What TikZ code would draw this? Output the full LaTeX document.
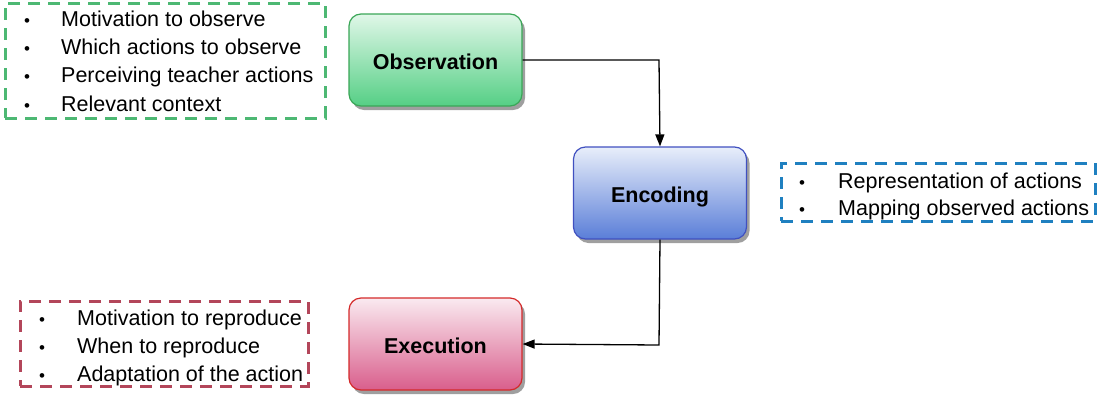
\documentclass[tikz,border=0pt]{standalone}
\usepackage{fontspec}
\setmainfont{Liberation Sans}
\usetikzlibrary{shadows,arrows.meta}
\definecolor{gedge}{HTML}{3AA657}
\definecolor{gtop}{HTML}{E0F7E8}
\definecolor{gbot}{HTML}{55CF85}
\definecolor{bedge}{HTML}{4050C0}
\definecolor{btop}{HTML}{E8EEFA}
\definecolor{bbot}{HTML}{5A7ED8}
\definecolor{redge}{HTML}{D42A2A}
\definecolor{rtop}{HTML}{FAEAF0}
\definecolor{rbot}{HTML}{D95E8C}
\definecolor{gdash}{HTML}{4DB873}
\definecolor{bdash}{HTML}{1F80C0}
\definecolor{rdash}{HTML}{B3465A}
\tikzset{
  stage/.style={rounded corners=12pt, minimum width=173pt, minimum height=92pt,
    line width=1.2pt, font=\fontsize{21.5}{25}\selectfont\bfseries,
    text height=19pt, text depth=0pt,
    drop shadow={shadow xshift=3pt, shadow yshift=-4pt, opacity=0.5, fill=black!75}},
  dbox/.style={line width=3pt, dash pattern=on 12pt off 8pt},
  item/.style={anchor=base west, font=\fontsize{21.5}{25}\selectfont, inner sep=0pt},
  bul/.style={anchor=base, font=\fontsize{17}{20}\selectfont, inner sep=0pt},
  conn/.style={line width=1.3pt, -{Triangle[length=12pt,width=9pt]}}
}
\begin{document}
\begin{tikzpicture}[x=1pt,y=-1pt]
\useasboundingbox (0,0) rectangle (1097,394);
% stage boxes
\node[stage, draw=gedge, top color=gtop, bottom color=gbot] (obs) at (435.5,60) {Observation};
\node[stage, draw=bedge, top color=btop, bottom color=bbot] (enc) at (660,193) {Encoding};
\node[stage, draw=redge, top color=rtop, bottom color=rbot] (exe) at (435.5,344) {Execution};
% connectors
\coordinate (c1) at (659,60);
\coordinate (c2) at (659,345);
\draw[conn] (obs.east) -- (c1) -- (enc.north);
\draw[conn] (enc.south) -- (c2) -- (exe.east);
% green list
\node[draw=gdash, dbox, minimum width=320pt, minimum height=115pt, inner sep=0pt] (gbox) at (165,60.5) {};
\foreach \y/\t [count=\i] in {19/Motivation to observe, 47/Which actions to observe, 75/Perceiving teacher actions, 104/Relevant context}{
  \node[bul] (gb\i) at (27,\y+7.5) {•};
  \node[item] (gt\i) at (61,\y+7.5) {\t};
}
% blue list
\node[draw=bdash, dbox, minimum width=314pt, minimum height=58pt, inner sep=0pt] (bbox) at (938,192) {};
\foreach \y/\t [count=\i] in {181/Representation of actions, 208/Mapping observed actions}{
  \node[bul] (bb\i) at (802,\y+7.5) {•};
  \node[item] (bt\i) at (838,\y+7.5) {\t};
}
% red list
\node[draw=rdash, dbox, minimum width=288pt, minimum height=85pt, inner sep=0pt] (rbox) at (164,343.5) {};
\foreach \y/\t [count=\i] in {318/Motivation to reproduce, 346/When to reproduce, 374/Adaptation of the action}{
  \node[bul] (rb\i) at (42,\y+7.5) {•};
  \node[item] (rt\i) at (77,\y+7.5) {\t};
}
\end{tikzpicture}
\end{document}
